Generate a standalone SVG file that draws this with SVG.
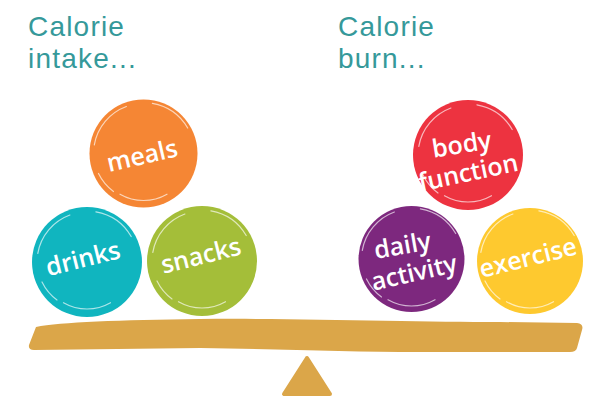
<svg xmlns="http://www.w3.org/2000/svg" xmlns:xlink="http://www.w3.org/1999/xlink" width="614" height="406" viewBox="0 0 614 406">
<style>
.title{font-family:"Liberation Sans",Arial,sans-serif;font-size:28px;letter-spacing:1.2px;fill:#35999a;}
.lbl{font-family:"Open Sans","Liberation Sans",sans-serif;font-size:25px;font-weight:600;fill:#ffffff;text-anchor:middle;}
.brush{fill:none;stroke:#ffffff;stroke-opacity:0.65;stroke-width:1.2;stroke-linecap:round;}
.wood{fill:#dba649;}
</style>
<defs>
<g id="strokes">
<path class="brush" d="M-49.2,-8.7 A50,50 0 0 1 -17.1,-47"/>
<path class="brush" d="M8.9,-50.2 A51,51 0 0 1 44.2,-25.5"/>
<path class="brush" d="M23.5,40.7 A47,47 0 0 1 -23.5,40.7"/>
<path class="brush" d="M-45,20 A49,49 0 0 0 -30,38"/>
</g>
</defs>
<rect width="614" height="406" fill="#ffffff"/>
<g id="title-intake">
<text class="title" x="28" y="36">Calorie</text>
<text class="title" x="28" y="68">intake...</text>
</g>
<g id="title-burn">
<text class="title" x="338" y="36">Calorie</text>
<text class="title" x="338" y="68">burn...</text>
</g>
<g id="beam">
<path class="wood" d="M36,327 C60,322 120,320 200,319 C300,318 420,322 500,322 L577,323 Q584,324 582,330 L577,348 Q576,352 570,352 L420,352 C350,352 280,349 200,348 L34,350 Q28,350 29,345 Z"/>
</g>
<g id="fulcrum">
<polygon class="wood" points="307,358 284,394 330,394" stroke="#dba649" stroke-width="4" stroke-linejoin="round"/>
</g>
<g id="meals">
<circle cx="143.5" cy="153.5" r="54" fill="#f58634"/>
<use xlink:href="#strokes" transform="translate(143.5,153.5)"/>
<text class="lbl" transform="translate(144,164) rotate(-13)">meals</text>
</g>
<g id="drinks">
<circle cx="87" cy="262" r="55" fill="#10b5bf"/>
<use xlink:href="#strokes" transform="translate(87,262)"/>
<text class="lbl" transform="translate(85,267) rotate(-14)">drinks</text>
</g>
<g id="snacks">
<circle cx="202" cy="261" r="55" fill="#a4be39"/>
<use xlink:href="#strokes" transform="translate(202,261)"/>
<text class="lbl" transform="translate(203,264) rotate(-14)">snacks</text>
</g>
<g id="body-function">
<circle cx="468" cy="155" r="55" fill="#ed3340"/>
<use xlink:href="#strokes" transform="translate(468,155)"/>
<text class="lbl" transform="translate(463,153) rotate(-9)">body</text>
<text class="lbl" transform="translate(470,181) rotate(-12)">function</text>
</g>
<g id="daily-activity">
<circle cx="411.5" cy="259" r="53" fill="#7d287e"/>
<use xlink:href="#strokes" transform="translate(411.5,259)"/>
<text class="lbl" transform="translate(404,254) rotate(-10)">daily</text>
<text class="lbl" transform="translate(416,281) rotate(-13)">activity</text>
</g>
<g id="exercise">
<circle cx="530" cy="261" r="53" fill="#fec92f"/>
<use xlink:href="#strokes" transform="translate(530,261)"/>
<text class="lbl" transform="translate(530,266) rotate(-14)">exercise</text>
</g>
</svg>
